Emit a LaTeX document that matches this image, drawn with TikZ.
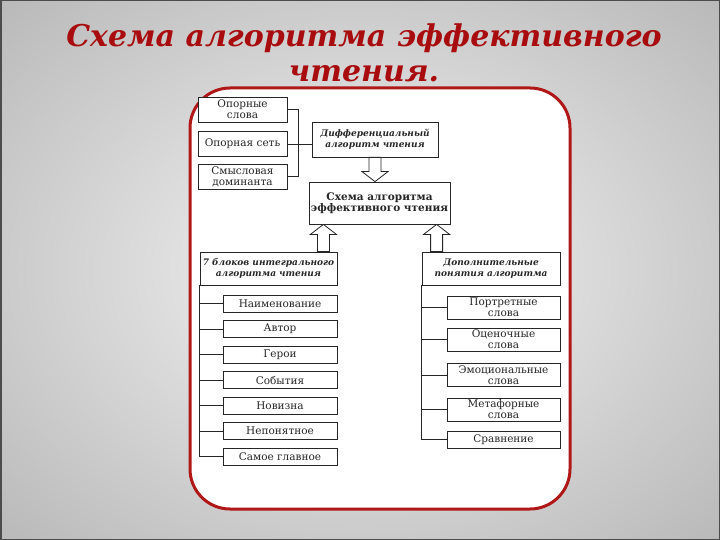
\documentclass[tikz,border=0pt]{standalone}
\usepackage{fontspec}
\setmainfont{DejaVu Serif}
\usetikzlibrary{calc}
\definecolor{titlered}{HTML}{A80C0E}
\definecolor{framered}{HTML}{B01818}
\definecolor{bglight}{HTML}{E4E4E4}
\definecolor{bgmid}{HTML}{A0A0A0}
\definecolor{bgdark}{HTML}{888888}
\definecolor{scanink}{HTML}{262626}
\pgfdeclareradialshading{slidebg}{\pgfpoint{0bp}{0bp}}%
  {color(0bp)=(bglight); color(10bp)=(bglight); color(50bp)=(bgmid); color(71bp)=(bgdark)}
\newcommand{\diagfont}{\fontsize{10.5}{11}\selectfont}
\newcommand{\headfont}{\bfseries\itshape\fontsize{9}{11}\selectfont}
% hollow block arrow from #1 to #2 (vertical only)
\newcommand{\hollowarrow}[2]{%
  \draw[hollow] let \p1=#1, \p2=#2, \n1={ifthenelse(\y2<\y1,-1,1)} in
    ({\x1-6},\y1) -- ({\x1-6},{\y2-(\n1)*10}) -- ({\x1-13},{\y2-(\n1)*10})
    -- (\x1,\y2) -- ({\x1+13},{\y2-(\n1)*10}) -- ({\x1+6},{\y2-(\n1)*10})
    -- ({\x1+6},\y1) -- cycle;}

\begin{document}
\begin{tikzpicture}[x=1pt, y=-1pt,
  box/.style={draw=scanink, line width=0.8pt, fill=white, inner sep=2pt,
    align=center, font=\diagfont, text=scanink},
  item/.style={box, minimum width=114pt, minimum height=17pt},
  head/.style={box, font=\headfont, minimum width=137pt, minimum height=33pt},
  link/.style={draw=scanink, line width=0.7pt},
  hollow/.style={draw=scanink, line width=0.8pt, fill=white},
  titletext/.style={font=\bfseries\itshape\fontsize{30}{35}\selectfont,
    text=titlered, anchor=base, inner sep=0pt}]
  \useasboundingbox (0,0) rectangle (720,540);

  % ---------- slide background ----------
  \shade[shading=slidebg] (0,0) rectangle (720,540);
  \draw[black!70, line width=1.5pt] (0.75,0.75) rectangle (719.25,539.25);

  % ---------- title ----------
  \node[titletext] (title1) at (364,47) {Схема алгоритма эффективного};
  \node[titletext] (title2) at (364,82) {чтения.};

  % ---------- white card ----------
  \draw[framered, fill=white, line width=3pt, rounded corners=40pt]
    (190,88) rectangle (570,509);

  % ---------- top part ----------
  \node[box, minimum width=89pt, minimum height=25pt] (word) at (242.5,109.5) {Опорные\\слова};
  \node[box, minimum width=89pt, minimum height=25pt] (net) at (242.5,144) {Опорная сеть};
  \node[box, minimum width=89pt, minimum height=25pt] (dom) at (242.5,176.5) {Смысловая\\доминанта};
  \node[head, minimum width=126pt, minimum height=35pt] (diff) at (375,139.5) {Дифференциальный\\алгоритм чтения};
  \node[box, font=\diagfont\bfseries, minimum width=137pt, minimum height=42pt] (schema) at (379.5,203)
    {Схема алгоритма\\эффективного чтения};

  \coordinate (brk) at ($(word.east)+(11,0)$);
  \draw[link] (word.east) -- (brk) -- (brk |- dom.east) -- (dom.east);
  \draw[link] (net.east) -- (net.east -| diff.west);
  \hollowarrow{(diff.south)}{(diff.south |- schema.north)}

  % ---------- two branches ----------
  \node[head] (intg) at (268.5,268.5) {7 блоков интегрального\\алгоритма чтения};
  \node[head, minimum width=138pt] (extra) at (491,268.5) {Дополнительные\\понятия алгоритма};

  \coordinate (upL) at ($(intg.north east)+(-14,0)$);
  \coordinate (upR) at ($(extra.north west)+(15,0)$);
  \hollowarrow{(upL)}{(upL |- schema.south)}
  \hollowarrow{(upR)}{(upR |- schema.south)}

  % left list
  \foreach \txt [count=\i] in {Наименование,Автор,Герои,События,Новизна,Непонятное,Самое главное} {
    \node[item] (part\i) at (280,{278+25.5*\i}) {\txt};
    \draw[link] (part\i.west) -- (part\i.west -| intg.west);
  }
  \draw[link] (intg.south west) -- (part7.west -| intg.west);

  % right list
  \foreach \y/\txt [count=\i] in {307.5/Портретные\\слова, 339.5/Оценочные\\слова,
      375/Эмоциональные\\слова, 409.5/Метафорные\\слова, 439.5/Сравнение} {
    \node[item, minimum width=113pt] (term\i) at (503.5,\y) {\txt};
    \draw[link] (term\i.west) -- (term\i.west -| extra.west);
  }
  \draw[link] (extra.south west) -- (term5.west -| extra.west);
\end{tikzpicture}
\end{document}
